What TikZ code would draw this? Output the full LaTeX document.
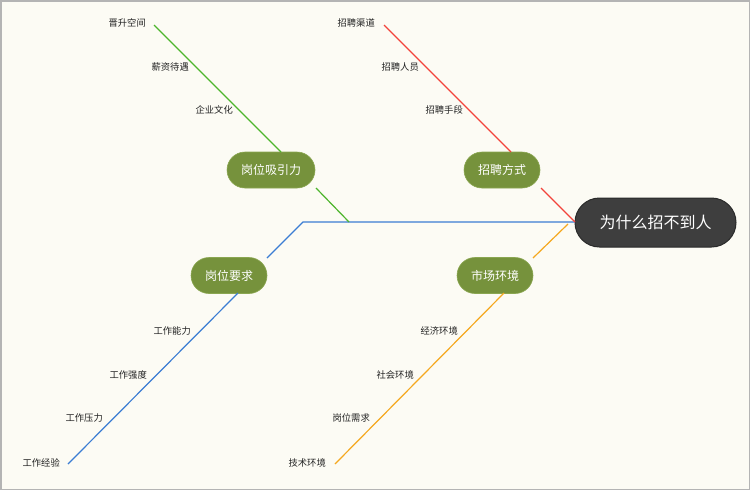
\documentclass[tikz,border=0pt]{standalone}
\usepackage{fontspec}
\setmainfont{Noto Sans CJK SC}
\usetikzlibrary{shapes.misc}
\definecolor{bg}{HTML}{FCFBF4}
\definecolor{frame}{HTML}{B4B4B4}
\definecolor{maindark}{HTML}{3E3E3E}
\definecolor{mainborder}{HTML}{2A2A2A}
\definecolor{olive}{HTML}{76923C}
\definecolor{oliveb}{HTML}{8AA650}
\definecolor{cgreen}{HTML}{4DB52C}
\definecolor{cred}{HTML}{F2433B}
\definecolor{cblue}{HTML}{3B7DD3}
\definecolor{corange}{HTML}{F5A81F}
\definecolor{txt}{HTML}{222222}
\tikzset{
  mainbox/.style={rounded rectangle, fill=maindark, draw=mainborder, line width=1pt,
    minimum width=161pt, minimum height=49pt, inner sep=0pt, text=white, font=\fontsize{16}{16}\selectfont},
  catbox/.style={rounded rectangle, fill=olive, draw=oliveb, line width=0.6pt,
    minimum height=36pt, inner sep=0pt, text=white, font=\fontsize{12}{12}\selectfont},
  leaf/.style={text=txt, font=\fontsize{9.3}{9.3}\selectfont, inner sep=0pt},
  bone/.style={line width=1.2pt},
}
\begin{document}
\begin{tikzpicture}[x=1pt,y=-1pt]
\useasboundingbox (0,0) rectangle (750,490);
\fill[bg] (0,0) rectangle (750,490);
\draw[frame, line width=1.5pt] (0.75,0.75) rectangle (749.25,489.25);

% main node
\node[mainbox] (main) at (655.5,222.5) {为什么招不到人};

% category nodes
\node[catbox, minimum width=88pt] (xyl) at (271,170) {岗位吸引力};
\node[catbox, minimum width=76pt] (zpfs) at (502,170) {招聘方式};
\node[catbox, minimum width=76pt] (gwyq) at (229,275.5) {岗位要求};
\node[catbox, minimum width=76pt] (schj) at (495,275.5) {市场环境};

% coordinates
\coordinate (sp0) at (575,222);
\coordinate (sp1) at (303,222);
\coordinate (gj) at (349,222);
\coordinate (g1) at (316,188);
\coordinate (g2) at (281,152);
\coordinate (g3) at (154,25);
\coordinate (r1) at (541,188);
\coordinate (r2) at (511,152);
\coordinate (r3) at (384,25);
\coordinate (b1) at (267,258);
\coordinate (b2) at (238,293);
\coordinate (b3) at (68,464);
\coordinate (o0) at (568,224);
\coordinate (o1) at (533,258);
\coordinate (o2) at (504,293);
\coordinate (o3) at (335,464);

% bones
\draw[bone, cblue] (sp0) -- (sp1) -- (b1);
\draw[bone, cblue] (b2) -- (b3);
\draw[bone, cgreen] (gj) -- (g1);
\draw[bone, cgreen] (g2) -- (g3);
\draw[bone, cred] (sp0) -- (r1);
\draw[bone, cred] (r2) -- (r3);
\draw[bone, corange] (o0) -- (o1);
\draw[bone, corange] (o2) -- (o3);

% leaves
\node[leaf, anchor=east] (l1) at (146,23) {晋升空间};
\node[leaf, anchor=east] (l2) at (189,67) {薪资待遇};
\node[leaf, anchor=east] (l3) at (233,110) {企业文化};
\node[leaf, anchor=east] (l4) at (375,23) {招聘渠道};
\node[leaf, anchor=east] (l5) at (419,67) {招聘人员};
\node[leaf, anchor=east] (l6) at (463,110) {招聘手段};
\node[leaf, anchor=east] (l7) at (191,331) {工作能力};
\node[leaf, anchor=east] (l8) at (147,375) {工作强度};
\node[leaf, anchor=east] (l9) at (103,418) {工作压力};
\node[leaf, anchor=east] (l10) at (60,463) {工作经验};
\node[leaf, anchor=east] (l11) at (458,331) {经济环境};
\node[leaf, anchor=east] (l12) at (414,375) {社会环境};
\node[leaf, anchor=east] (l13) at (370,418) {岗位需求};
\node[leaf, anchor=east] (l14) at (326,463) {技术环境};
\end{tikzpicture}
\end{document}
